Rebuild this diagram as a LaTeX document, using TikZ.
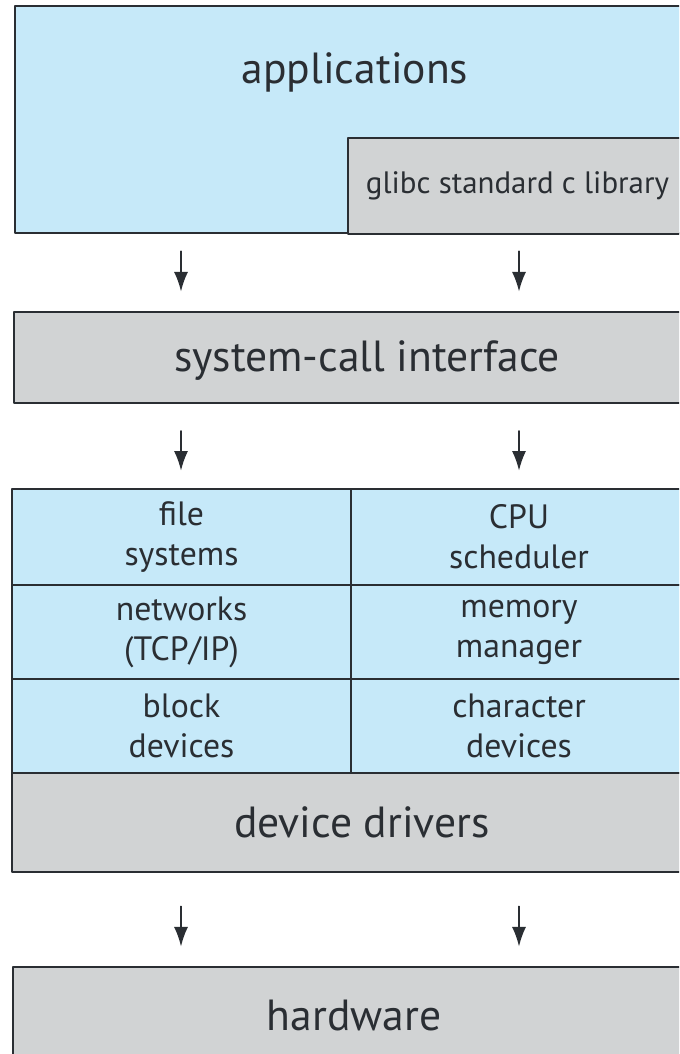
\documentclass[tikz,border=0pt]{standalone}
\usepackage{fontspec}
\setmainfont{PT Sans}
\usetikzlibrary{arrows.meta}
\usetikzlibrary{positioning}
\definecolor{osblue}{HTML}{C6E9F9}
\definecolor{osgray}{HTML}{D1D3D4}
\definecolor{osline}{HTML}{2A2E33}
\newlength\px
\setlength\px{0.25mm}
\tikzset{
  layer/.style={draw=osline, line width=2pt, fill=osgray, inner sep=0pt},
  cell/.style={layer, fill=osblue, align=center, text=osline,
    font=\fontsize{24}{28.5}\selectfont},
  biglabel/.style={text=osline, inner sep=0pt, font=\fontsize{31}{36}\selectfont},
  flow/.style={draw=osline, line width=1.3pt, -{Latex[length=14pt, width=10pt]}}
}
\begin{document}
\begin{tikzpicture}[line cap=round,line join=round, x=0.25mm, y=-0.25mm]
	\useasboundingbox (0,0) rectangle (679,1054);
	\clip (0,0) rectangle (679,1054);
	\coordinate (lcol) at (181,0);
	\coordinate (rcol) at (519,0);
	% user space
	\node[layer, fill=osblue, minimum width=672\px, minimum height=227\px] (apps) at (351,119.5) {};
	\node[biglabel] (appstext) at (355,72) {applications};
	\node[layer, minimum width=339\px, minimum height=96\px, text=osline,
		font=\fontsize{22}{27}\selectfont] (glibc) at (517.5,186) {glibc standard c library};
	% system calls
	\node[layer, minimum width=673\px, minimum height=91\px] (sys) at (350.5,357.5) {};
	\node[biglabel] (systext) at (367,361) {system-call interface};
	% kernel
	\node[cell, minimum width=339\px, minimum height=96\px] (fs) at (181.5,537) {file\\systems};
	\node[cell, minimum width=336\px, minimum height=96\px] (cpu) at (519,537) {CPU\\scheduler};
	\node[cell, minimum width=339\px, minimum height=94\px] (net) at (181.5,632) {networks\\(TCP/IP)};
	\node[cell, minimum width=336\px, minimum height=94\px] (mem) at (519,632) {memory\\manager};
	\node[cell, minimum width=339\px, minimum height=94\px] (blk) at (181.5,726) {block\\devices};
	\node[cell, minimum width=336\px, minimum height=94\px] (chr) at (519,726) {character\\devices};
	\node[layer, minimum width=675\px, minimum height=99\px] (dd) at (349.5,822.5) {};
	\node[biglabel] (ddtext) at (362,822) {device drivers};
	% hardware
	\node[layer, minimum width=674\px, minimum height=133\px] (hw) at (350,1033.5) {};
	\node[biglabel] (hwtext) at (354,1015) {hardware};
	% arrows
	\foreach \a/\b/\s/\e in {apps/sys/12/13.5, sys/fs/19/12, dd/hw/23.5/13.5}
	\foreach \c in {lcol,rcol}
	\draw[flow, shorten <=\s pt, shorten >=\e pt] (\a.south -| \c) -- (\b.north -| \c);
\end{tikzpicture}
\end{document}
